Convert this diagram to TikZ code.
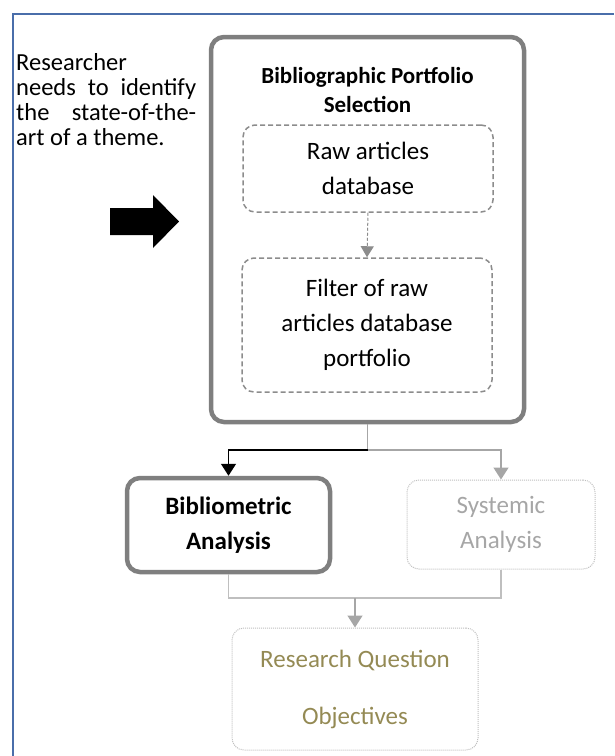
\documentclass[tikz,border=0pt]{standalone}
\usepackage{fontspec}
\setmainfont{Carlito}
\usetikzlibrary{arrows.meta}
\definecolor{frameblue}{HTML}{4A6EAA}
\definecolor{boxgray}{HTML}{7F7F7F}
\definecolor{dashgray}{HTML}{8C8C8C}
\definecolor{lightgray2}{HTML}{A6A6A6}
\definecolor{dotgray}{HTML}{BFBFBF}
\definecolor{olivetxt}{HTML}{948A54}
\begin{document}
\begin{tikzpicture}[x=1pt,y=-1pt,
  thickbox/.style={draw=boxgray, line width=4.5pt, rounded corners=13pt, inner sep=0pt},
  dashbox/.style={draw=dashgray, line width=1.5pt, dash pattern=on 5pt off 3pt, rounded corners=12pt, inner sep=0pt, align=center, font=\fontsize{25}{35}\selectfont},
  dotbox/.style={draw=dotgray, line width=1pt, dash pattern=on 1pt off 1pt, rounded corners=12pt, inner sep=0pt, align=center},
  tip/.style={-{Triangle[width=15pt,length=12pt]}},
  conn/.style={line width=1.5pt}
]
\useasboundingbox (0,0) rectangle (614,756);
% outer frame
\draw[frameblue, line width=2pt] (13,756) -- (13,14) -- (614,14);
% researcher text
\node[anchor=north west, inner sep=0pt, align=left, font=\fontsize{24.5}{25}\selectfont] (res) at (16,53)
  {Researcher\\\makebox[180pt][s]{needs to identify}\\\makebox[180pt][s]{the state-of-the-}\\art of a theme.};
% big arrow
\fill[black] (110,208) -- (153,208) -- (153,195) -- (179,221.5) -- (153,248) -- (153,235) -- (110,235) -- cycle;
% big box
\node[thickbox, minimum width=313pt, minimum height=385pt] (bps) at (367.5,229.5) {};
\node[align=center, inner sep=0pt, font=\fontsize{23}{29}\selectfont\bfseries] (title) at (367.5,90) {Bibliographic Portfolio\\Selection};
\node[dashbox, minimum width=250pt, minimum height=87pt] (raw) at (368,168.5) {Raw articles\\database};
\node[dashbox, minimum width=250pt, minimum height=134pt] (filt) at (367,325) {Filter of raw\\articles database\\portfolio};
\draw[dashgray, line width=1pt, dash pattern=on 3pt off 2pt, -{Triangle[width=13pt,length=11pt]}] (raw.south) -- (filt.north);
% analysis boxes
\node[thickbox, minimum width=203pt, minimum height=94pt, align=center, font=\fontsize{25}{35}\selectfont\bfseries] (bib) at (228.5,525) {Bibliometric\\Analysis};
\node[dotbox, minimum width=188pt, minimum height=89pt, text=lightgray2, font=\fontsize{25}{35}\selectfont] (sys) at (501,524.5) {Systemic\\Analysis};
\node[dotbox, minimum width=246pt, minimum height=122pt, text=olivetxt, font=\fontsize{25}{57}\selectfont] (rq) at (355,689) {Research Question\\Objectives};
% connectors
\coordinate (split) at (367.5,450);
\coordinate (join) at (355,598);
\draw[conn, lightgray2] (bps.south) -- (split);
\draw[conn, black, tip] (split) -| (bib.north);
\draw[conn, lightgray2, tip] (split) -| (sys.north);
\draw[conn, dotgray] (bib.south) |- (join);
\draw[conn, dotgray] (sys.south) |- (join);
\draw[conn, lightgray2, tip] (join) -- (rq.north);
\end{tikzpicture}
\end{document}
